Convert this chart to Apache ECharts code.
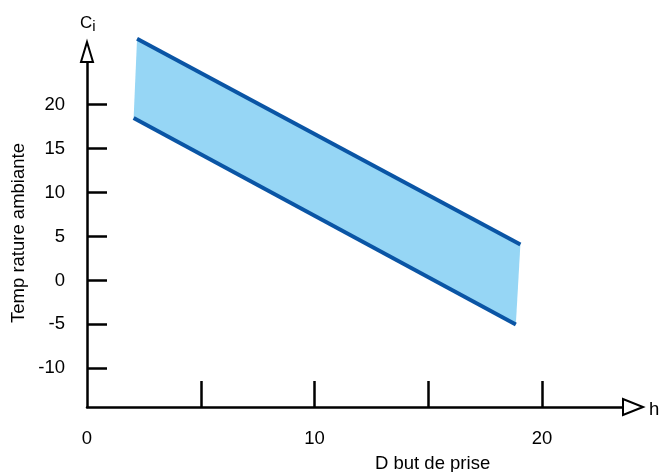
<!DOCTYPE html>
<html>
<head>
<meta charset="utf-8">
<script src="https://cdn.jsdelivr.net/npm/echarts@6/dist/echarts.min.js"></script>
<style>
html,body{margin:0;padding:0;background:#fff;}
#c{width:660px;height:472px;}
</style>
</head>
<body>
<div id="c"></div>
<script>
// Axis ticks and labels
const xTickValues = [5, 10, 15, 20];
const xLabelValues = [0, 10, 20];
const yTickValues = [-10, -5, 0, 5, 10, 15, 20];
const yLabelValues = [-10, -5, 0, 5, 10, 15, 20];

// Band edges (x: hours, y: ambient temperature)
const upperX = [2.2, 19.05];
const upperY = [27.5, 4.1];
const lowerX = [2.05, 18.85];
const lowerY = [18.5, -5.0];

const xTitle = 'D but de prise';
const yTitle = 'Temp rature ambiante';
const yUnit = 'C';
const yUnitSub = 'i';
const xUnit = 'h';

const FONT = '"Liberation Sans", Arial, sans-serif';
const lineColor = '#0a55a5';
const fillColor = '#96d6f5';

const chart = echarts.init(document.getElementById('c'));
chart.setOption({
  animation: false,
  backgroundColor: '#fff',
  grid: { left: 87, right: 27, top: 52, bottom: 65, containLabel: false },
  xAxis: {
    type: 'value', min: 0, max: 24,
    axisLine: { show: true, onZero: false, lineStyle: { color: '#000', width: 2.5 },
      symbol: ['none', 'emptyTriangle'], symbolSize: [16, 20] },
    axisTick: { show: true, inside: true, length: 26, customValues: xTickValues,
      lineStyle: { color: '#000', width: 2.5 } },
    axisLabel: { show: true, customValues: xLabelValues, margin: 22, fontSize: 18.5,
      color: '#000', fontFamily: FONT },
    splitLine: { show: false }
  },
  yAxis: {
    type: 'value', min: -14.4, max: 26,
    axisLine: { show: true, onZero: false, lineStyle: { color: '#000', width: 2.5 },
      symbol: ['none', 'emptyTriangle'], symbolSize: [12, 20] },
    axisTick: { show: true, inside: true, length: 20, customValues: yTickValues,
      lineStyle: { color: '#000', width: 2.5 } },
    axisLabel: { show: true, customValues: yLabelValues, margin: 22, fontSize: 18.5,
      color: '#000', fontFamily: FONT },
    splitLine: { show: false }
  },
  series: [
    {
      type: 'custom',
      clip: false,
      z: 1,
      data: [[upperX[0], upperY[0]]],
      renderItem: function (params, api) {
        const pts = [
          api.coord([upperX[0], upperY[0]]),
          api.coord([upperX[1], upperY[1]]),
          api.coord([lowerX[1], lowerY[1]]),
          api.coord([lowerX[0], lowerY[0]])
        ];
        return { type: 'polygon', shape: { points: pts }, style: { fill: fillColor } };
      }
    },
    {
      type: 'line', clip: false, z: 3, showSymbol: false, symbol: 'none',
      data: [[upperX[0], upperY[0]], [upperX[1], upperY[1]]],
      lineStyle: { color: lineColor, width: 4, cap: 'butt' }
    },
    {
      type: 'line', clip: false, z: 3, showSymbol: false, symbol: 'none',
      data: [[lowerX[0], lowerY[0]], [lowerX[1], lowerY[1]]],
      lineStyle: { color: lineColor, width: 4, cap: 'butt' }
    }
  ],
  graphic: [
    { type: 'text', x: 19, y: 233, rotation: Math.PI / 2,
      style: { text: yTitle, fontSize: 18.5, fontFamily: FONT, fill: '#000', align: 'center', verticalAlign: 'middle' } },
    { type: 'text', x: 375, y: 454,
      style: { text: xTitle, fontSize: 18.5, fontFamily: FONT, fill: '#000', align: 'left', verticalAlign: 'top' } },
    { type: 'text', x: 649, y: 410,
      style: { text: xUnit, fontSize: 18.5, fontFamily: FONT, fill: '#000', align: 'left', verticalAlign: 'middle' } },
    { type: 'text', x: 80, y: 15,
      style: { text: '{c|' + yUnit + '}{i|' + yUnitSub + '}', fontFamily: FONT, fill: '#000',
        rich: { c: { fontSize: 17, fontFamily: FONT, verticalAlign: 'top' },
                i: { fontSize: 15, fontFamily: FONT, padding: [4, 0, 0, 0] } } } }
  ]
});
</script>
</body>
</html>
